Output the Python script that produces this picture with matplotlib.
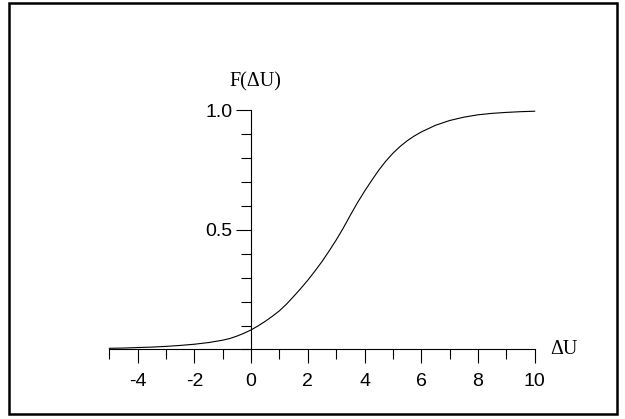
import numpy as np
import matplotlib
matplotlib.use("Agg")
import matplotlib.pyplot as plt
from matplotlib.patches import Rectangle
from matplotlib.ticker import MultipleLocator

# values
du = [-5, -4.5, -4, -3.5, -3, -2.5, -2, -1.5, -1, -0.75, -0.5, -0.25,
      0, 0.25, 0.5, 0.75, 1, 1.25, 1.5, 1.75, 2, 2.25, 2.5, 2.75, 3, 3.25,
      3.5, 3.75, 4, 4.25, 4.5, 4.75, 5, 5.25, 5.5, 5.75, 6, 6.5, 7, 7.5,
      8, 8.5, 9, 9.5, 10]
f_du = [0.005, 0.006, 0.008, 0.010, 0.013, 0.017, 0.022, 0.029, 0.039, 0.046,
        0.056, 0.068, 0.082, 0.099, 0.118, 0.139, 0.162, 0.19, 0.222, 0.255,
        0.29, 0.328, 0.368, 0.412, 0.458, 0.508, 0.562, 0.614, 0.662, 0.707,
        0.75, 0.788, 0.821, 0.849, 0.873, 0.893, 0.91, 0.938, 0.958, 0.972,
        0.982, 0.988, 0.992, 0.995, 0.997]

x_ticks = [-4, -2, 0, 2, 4, 6, 8, 10]
y_ticks = [0.5, 1.0]

plt.rcParams['font.family'] = ['Liberation Sans', 'DejaVu Sans']

fig = plt.figure(figsize=(6.25, 4.19), dpi=100)
ax = fig.add_axes([0.1749, 0.1659, 0.6806, 0.5704])

ax.plot(du, f_du, color='black', lw=0.8, clip_on=False)

ax.set_xlim(-5, 10)
ax.set_ylim(0, 1)

# axes cross at the origin
ax.spines['left'].set_position(('data', 0))
ax.spines['bottom'].set_position(('data', 0))
ax.spines['top'].set_visible(False)
ax.spines['right'].set_visible(False)
for s in ['left', 'bottom']:
    ax.spines[s].set_linewidth(0.8)

ax.set_xticks(x_ticks)
ax.set_xticklabels([str(t) for t in x_ticks])
ax.xaxis.set_minor_locator(MultipleLocator(1))
ax.set_yticks(y_ticks)
ax.set_yticklabels(['%.1f' % t for t in y_ticks])
ax.yaxis.set_minor_locator(MultipleLocator(0.1))

ax.tick_params(axis='x', which='major', direction='out', length=10, width=0.8,
               pad=7, labelsize=14)
ax.tick_params(axis='x', which='minor', direction='out', length=7, width=0.8)
ax.tick_params(axis='y', which='major', direction='out', length=10.8, width=0.8,
               pad=2.7, labelsize=14)
ax.tick_params(axis='y', which='minor', direction='out', length=7.2, width=0.8)

ax.text(0.15, 1.08, 'F(ΔU)', ha='center', va='bottom', fontsize=14.5,
        family=['Liberation Serif', 'DejaVu Serif'])
ax.text(10.54, 0, 'ΔU', ha='left', va='center', fontsize=14.5,
        family=['Liberation Serif', 'DejaVu Serif'])

# outer frame
fig.patches.append(Rectangle((9 / 625, 5 / 419), 608 / 625, 411 / 419,
                             transform=fig.transFigure, fill=False,
                             edgecolor='black', lw=1.8))

fig.savefig('out.png', dpi=100)
